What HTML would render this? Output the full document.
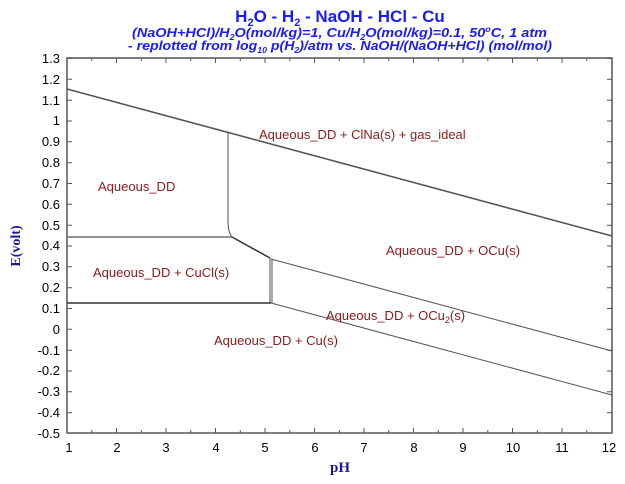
<!DOCTYPE html>
<html><head><style>body{margin:0;background:#fff}svg{display:block}</style></head><body>
<svg width="625" height="484" xmlns="http://www.w3.org/2000/svg" font-family="Liberation Sans, Arial, sans-serif">
<text x="340" y="22" text-anchor="middle" font-size="17" font-weight="bold" fill="#1a1aff">H<tspan font-size="11" dy="4">2</tspan><tspan dy="-4">O - H</tspan><tspan font-size="11" dy="4">2</tspan><tspan dy="-4"> - NaOH - HCl - Cu</tspan></text>
<text x="132" y="37" textLength="415" lengthAdjust="spacingAndGlyphs" font-size="13" font-weight="bold" font-style="italic" fill="#1a1aff">(NaOH+HCl)/H<tspan font-size="8" dy="3">2</tspan><tspan dy="-3">O(mol/kg)=1, Cu/H</tspan><tspan font-size="8" dy="3">2</tspan><tspan dy="-3">O(mol/kg)=0.1,   50</tspan><tspan font-size="8" dy="-5">o</tspan><tspan dy="5">C, 1 atm</tspan></text>
<text x="128" y="50" textLength="424" lengthAdjust="spacingAndGlyphs" font-size="13" font-weight="bold" font-style="italic" fill="#1a1aff">- replotted from log<tspan font-size="8" dy="3">10</tspan><tspan dy="-3"> p(H</tspan><tspan font-size="8" dy="3">2</tspan><tspan dy="-3">)/atm vs. NaOH/(NaOH+HCl) (mol/mol)</tspan></text>
<rect x="67" y="58" width="545" height="375" fill="none" stroke="#555" stroke-width="1.5"/>
<g stroke="#555" stroke-width="1">
<path id="t" d="M67,433v-5M116.5,433v-5M166,433v-5M215.5,433v-5M265,433v-5M314.5,433v-5M364,433v-5M413.5,433v-5M463,433v-5M512.5,433v-5M562,433v-5M91.8,433v-3M141.3,433v-3M190.8,433v-3M240.3,433v-3M289.8,433v-3M339.3,433v-3M388.8,433v-3M438.3,433v-3M487.8,433v-3M537.3,433v-3M586.8,433v-3"/>
<use href="#t" transform="translate(0,491) scale(1,-1)"/>
</g>
<g font-size="13" fill="#000" text-anchor="end">
<text x="60" y="63">1.3</text><text x="60" y="84">1.2</text><text x="60" y="105">1.1</text><text x="60" y="125">1</text><text x="60" y="146">0.9</text><text x="60" y="167">0.8</text><text x="60" y="188">0.7</text><text x="60" y="209">0.6</text><text x="60" y="230">0.5</text><text x="60" y="250">0.4</text><text x="60" y="271">0.3</text><text x="60" y="292">0.2</text><text x="60" y="313">0.1</text><text x="60" y="334">0</text><text x="60" y="355">-0.1</text><text x="60" y="375">-0.2</text><text x="60" y="396">-0.3</text><text x="60" y="417">-0.4</text><text x="60" y="438">-0.5</text>
</g>
<g font-size="13" fill="#000" text-anchor="middle">
<text x="69" y="452">1</text><text x="117" y="452">2</text><text x="166" y="452">3</text><text x="216" y="452">4</text><text x="265" y="452">5</text><text x="315" y="452">6</text><text x="364" y="452">7</text><text x="414" y="452">8</text><text x="463" y="452">9</text><text x="513" y="452">10</text><text x="562" y="452">11</text><text x="609" y="452">12</text>
</g>
<g stroke="#555" stroke-width="1">
<path d="M67,58.5h5M67,79.3h5M67,100.2h5M67,121h5M67,141.8h5M67,162.7h5M67,183.5h5M67,204.3h5M67,225.2h5M67,246h5M67,266.8h5M67,287.7h5M67,308.5h5M67,329.3h5M67,350.2h5M67,371h5M67,391.8h5M67,412.7h5M612,58.5h-5M612,79.3h-5M612,100.2h-5M612,121h-5M612,141.8h-5M612,162.7h-5M612,183.5h-5M612,204.3h-5M612,225.2h-5M612,246h-5M612,266.8h-5M612,287.7h-5M612,308.5h-5M612,329.3h-5M612,350.2h-5M612,371h-5M612,391.8h-5M612,412.7h-5"/>
</g>
<text x="340" y="472" text-anchor="middle" font-family="Liberation Serif, serif" font-weight="bold" font-size="15" fill="#1a1a99">pH</text>
<text x="20" y="246" text-anchor="middle" font-family="Liberation Serif, serif" font-weight="bold" font-size="14" fill="#1a1a99" transform="rotate(-90 20 246)">E(volt)</text>
<g fill="none" stroke="#555" stroke-width="1">
<path d="M67,89L612,236" stroke-width="1.6" stroke="#555"/>
<path d="M228,133V222Q228,232 232,237"/>
<path d="M67,237H232" stroke-width="1.3"/>
<path d="M232,237L270,258" stroke-width="1.5" stroke="#333"/>
<path d="M270,258V303M272,259V303"/>
<path d="M67,303H271" stroke-width="1.5" stroke="#333"/>
<path d="M271,259L612,351"/>
<path d="M271,303L612,395"/>
</g>
<g font-size="13" fill="#8b1a1a">
<text x="259" y="139">Aqueous_DD + ClNa(s) + gas_ideal</text>
<text x="98" y="191">Aqueous_DD</text>
<text x="386" y="255">Aqueous_DD + OCu(s)</text>
<text x="93" y="277">Aqueous_DD + CuCl(s)</text>
<text x="326" y="320">Aqueous_DD + OCu<tspan font-size="9" dy="3">2</tspan><tspan dy="-3">(s)</tspan></text>
<text x="214" y="345">Aqueous_DD + Cu(s)</text>
</g>
</svg>
</body></html>
